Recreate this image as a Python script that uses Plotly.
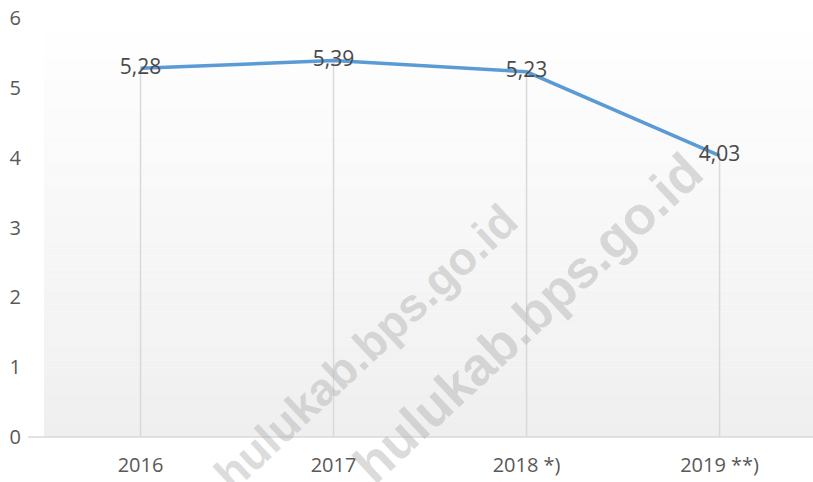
import plotly.graph_objects as go

years = ["2016", "2017", "2018 *)", "2019 **)"]
values = [5.28, 5.39, 5.23, 4.03]
y_ticks = [0, 1, 2, 3, 4, 5, 6]
watermark = "hulukab.bps.go.id"

W, H = 813, 482
L, R, T, B = 44, 0, 18, 45
pw, ph = W - L - R, H - T - B

def px_x(x):
    return (x - L) / pw

def px_y(y):
    return (H - B - y) / ph

labels = [f"{v:.2f}".replace(".", ",") for v in values]

# drop lines from axis to points
dx, dy = [], []
for c, v in zip(years, values):
    dx += [c, c, None]
    dy += [0, v, None]

fig = go.Figure()
fig.add_trace(go.Scatter(x=dx, y=dy, mode="lines",
                         line=dict(color="#d9d9d9", width=1.5),
                         hoverinfo="skip", showlegend=False))
fig.add_trace(go.Scatter(x=years, y=values, mode="lines+text",
                         line=dict(color="#5b9bd5", width=3.5),
                         text=labels, textposition="middle center",
                         textfont=dict(family="Open Sans", size=21, color="#4a4a4a"),
                         showlegend=False))

shapes = []
N = 60
for i in range(N):
    f = (i + 0.5) / N  # 0 top -> 1 bottom
    c = int(round(255 - 16 * f))
    shapes.append(dict(type="rect", xref="paper", yref="paper",
                       x0=0, x1=1, y0=1 - (i + 1) / N, y1=1 - i / N,
                       fillcolor=f"rgb({c},{c},{c})", line=dict(width=0),
                       layer="below"))
shapes.append(dict(type="line", xref="paper", yref="paper",
                   x0=px_x(28), x1=1, y0=0, y1=0,
                   line=dict(color="#d9d9d9", width=1.5), layer="above"))

annotations = [
    dict(text=f"<b>{watermark}</b>", xref="paper", yref="paper",
         x=px_x(366), y=px_y(347), showarrow=False, textangle=-43,
         font=dict(family="Liberation Sans", size=46, color="rgba(175,175,175,0.45)"),
         xanchor="center", yanchor="middle"),
    dict(text=f"<b>{watermark}</b>", xref="paper", yref="paper",
         x=px_x(527), y=px_y(318), showarrow=False, textangle=-43,
         font=dict(family="Liberation Sans", size=53, color="rgba(175,175,175,0.45)"),
         xanchor="center", yanchor="middle"),
]

fig.update_layout(
    width=W, height=H,
    margin=dict(l=L, r=R, t=T, b=B, autoexpand=False),
    paper_bgcolor="white", plot_bgcolor="white",
    shapes=shapes, annotations=annotations,
    xaxis=dict(type="category", range=[-0.5, 3.484], showgrid=False,
               zeroline=False, showline=False, ticks="", automargin=False,
               tickfont=dict(family="Open Sans", size=20, color="#595959"),
               ticklabelstandoff=14),
    yaxis=dict(range=[0, 6], tickvals=y_ticks, showgrid=False,
               zeroline=False, showline=False, ticks="", automargin=False,
               tickfont=dict(family="Open Sans", size=20, color="#595959"),
               ticklabelstandoff=22),
)

fig.write_html("out.html", config={"displayModeBar": False},
               post_script="document.body.style.margin='0';document.body.style.overflow='hidden';")
